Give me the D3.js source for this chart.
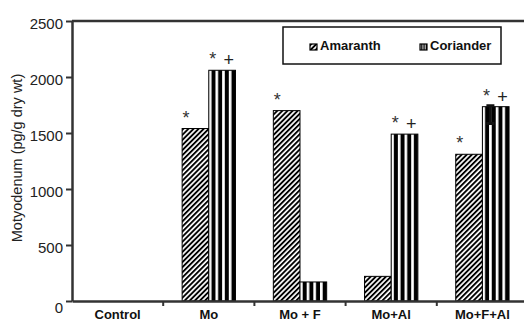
<!DOCTYPE html>
<html>
<head>
<meta charset="utf-8">
<script src="https://cdn.jsdelivr.net/npm/d3@7"></script>
<style>
  html, body { margin: 0; padding: 0; background: #fff; }
  svg { display: block; }
  svg text { font-family: "Liberation Sans", Arial, Helvetica, sans-serif; }
</style>
</head>
<body>
<svg id="chart" width="524" height="322"></svg>
<script>
// data
const categories = ['Control', 'Mo', 'Mo + F', 'Mo+Al', 'Mo+F+Al']
const seriesNames = ['Amaranth', 'Coriander']
const amaranth = [0, 1540, 1700, 220, 1310]
const coriander = [0, 2060, 170, 1490, 1735]
const amaranthMarks = ['', '*', '*', '', '*']
const corianderMarks = ['', '*+', '', '*+', '*+']
const corianderErr = [0, 0, 0, 0, 150]
const yTicks = [0, 500, 1000, 1500, 2000, 2500]
const yTitle = 'Motyodenum (pg/g dry wt)'

const svg = d3.select('#chart')
const margin = {top: 21, left: 72, bottom: 301, right: 528}

// patterns
const defs = svg.append('defs')
defs.append('pattern')
  .attr('id', 'hatch')
  .attr('patternUnits', 'userSpaceOnUse')
  .attr('width', 3.6).attr('height', 3.6)
  .attr('patternTransform', 'rotate(45)')
  .call(p => {
    p.append('rect').attr('width', 3.6).attr('height', 3.6).attr('fill', '#fff')
    p.append('rect').attr('width', 1.9).attr('height', 3.6).attr('fill', '#000')
  })
defs.append('pattern')
  .attr('id', 'stripes')
  .attr('patternUnits', 'objectBoundingBox')
  .attr('patternContentUnits', 'objectBoundingBox')
  .attr('width', 0.25).attr('height', 1)
  .call(p => {
    p.append('rect').attr('width', 0.25).attr('height', 1).attr('fill', '#fff')
    p.append('rect').attr('x', 0.1).attr('width', 0.15).attr('height', 1).attr('fill', '#000')
  })

const fills = {Amaranth: 'url(#hatch)', Coriander: 'url(#stripes)'}

// scales
const x = d3.scaleBand()
  .domain(categories)
  .range([margin.left, margin.right])
  .padding(0)

const x1 = d3.scaleBand()
  .domain(seriesNames)
  .range([0, x.bandwidth()])
  .paddingInner(0)
  .paddingOuter(0.71)

const y = d3.scaleLinear()
  .domain([0, 2500])
  .range([margin.bottom, margin.top])

const rows = categories.map((c, i) => ({
  category: c,
  bars: [
    {name: 'Amaranth', value: amaranth[i], mark: amaranthMarks[i], err: 0},
    {name: 'Coriander', value: coriander[i], mark: corianderMarks[i], err: corianderErr[i]}
  ]
}))

// bars
const groups = svg.append('g')
  .selectAll('g')
  .data(rows)
  .join('g')
    .attr('transform', d => 'translate(' + x(d.category) + ',0)')

groups.selectAll('rect')
  .data(d => d.bars.filter(b => b.value > 0))
  .join('rect')
    .attr('x', d => x1(d.name))
    .attr('y', d => y(d.value))
    .attr('width', x1.bandwidth())
    .attr('height', d => y(0) - y(d.value))
    .attr('fill', d => fills[d.name])
    .attr('stroke', '#000')
    .attr('stroke-width', 1)

// error bar
groups.selectAll('path.err')
  .data(d => d.bars.filter(b => b.err > 0))
  .join('path')
    .attr('class', 'err')
    .attr('d', d => {
      const cx = x1(d.name) + 8
      const t = y(d.value) - 1, b = y(d.value - d.err)
      return 'M' + (cx - 4) + ',' + t + 'H' + (cx + 4) + 'M' + cx + ',' + t + 'V' + b +
        'M' + (cx - 4) + ',' + b + 'H' + (cx + 4)
    })
    .attr('stroke', '#111')
    .attr('stroke-width', 3)
    .attr('fill', 'none')

// significance marks
groups.selectAll('text.star')
  .data(d => d.bars.filter(b => b.mark.includes('*')))
  .join('text')
    .attr('class', 'star')
    .attr('x', d => x1(d.name) + 4)
    .attr('y', d => y(d.value) - 5)
    .attr('text-anchor', 'middle')
    .attr('font-size', 18)
    .attr('fill', '#333')
    .text('*')

groups.selectAll('text.plus')
  .data(d => d.bars.filter(b => b.mark.includes('+')))
  .join('text')
    .attr('class', 'plus')
    .attr('x', d => x1(d.name) + 20)
    .attr('y', d => y(d.value) - 4)
    .attr('text-anchor', 'middle')
    .attr('font-size', 18)
    .attr('fill', '#222')
    .text('+')

// frame top line
svg.append('line')
  .attr('x1', margin.left).attr('x2', margin.right)
  .attr('y1', y(2500)).attr('y2', y(2500))
  .attr('stroke', '#333').attr('stroke-width', 2.5)

// y axis
const yAxis = svg.append('g')
  .attr('transform', 'translate(' + margin.left + ',0)')
  .call(d3.axisLeft(y).tickValues(yTicks).tickFormat(d3.format('d'))
    .tickSize(6).tickPadding(3).tickSizeOuter(0))
yAxis.attr('font-family', null)
yAxis.select('.domain').attr('stroke', '#333').attr('stroke-width', 2.5)
yAxis.selectAll('.tick line').attr('stroke', '#333').attr('stroke-width', 2)
yAxis.selectAll('.tick text')
  .attr('font-size', 15)
  .attr('fill', '#222')
  .attr('dy', d => d === 0 ? '0.75em' : '0.5em')

// x axis
const xAxis = svg.append('g')
  .attr('transform', 'translate(0,' + margin.bottom + ')')
  .call(d3.axisBottom(x).tickSize(0).tickPadding(9).tickSizeOuter(0))
xAxis.attr('font-family', null)
xAxis.select('.domain').attr('stroke', '#333').attr('stroke-width', 2.5)
xAxis.selectAll('.tick text')
  .attr('font-size', 13)
  .attr('font-weight', 'bold')
  .attr('fill', '#111')

// ticks between categories
xAxis.append('g')
  .selectAll('line')
  .data(categories.slice(1))
  .join('line')
    .attr('x1', d => x(d)).attr('x2', d => x(d))
    .attr('y1', 0).attr('y2', 5)
    .attr('stroke', '#333').attr('stroke-width', 2)

// y title
svg.append('text')
  .attr('transform', 'translate(22,158) rotate(-90)')
  .attr('text-anchor', 'middle')
  .attr('font-size', 14.5)
  .attr('fill', '#222')
  .text(yTitle)

// legend
const legend = svg.append('g')
legend.append('rect')
  .attr('x', 283).attr('y', 27)
  .attr('width', 218).attr('height', 37)
  .attr('fill', '#fff')
  .attr('stroke', '#111').attr('stroke-width', 1.5)

const legendX = [310, 420]
const items = legend.selectAll('g.item')
  .data(seriesNames)
  .join('g')
    .attr('class', 'item')
    .attr('transform', (d, i) => 'translate(' + legendX[i] + ',44)')
items.append('rect')
  .attr('width', 7).attr('height', 6)
  .attr('fill', d => fills[d])
  .attr('stroke', '#000').attr('stroke-width', 1.2)
items.append('text')
  .attr('x', 10).attr('y', 6)
  .attr('font-size', 13)
  .attr('font-weight', 'bold')
  .attr('fill', '#111')
  .text(d => d)
</script>
</body>
</html>
